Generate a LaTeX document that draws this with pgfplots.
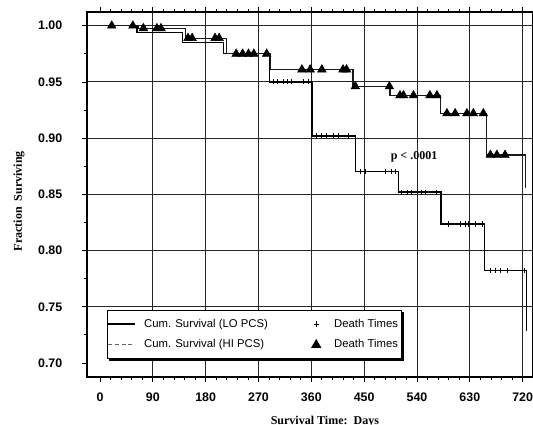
\documentclass[border=0pt]{standalone}
\usepackage{fontspec}
\setmainfont{Liberation Sans}
\newfontfamily\serifbf{Liberation Serif}
\usepackage{pgfplots}
\pgfplotsset{compat=1.18}
\pgfplotsset{
  lineleg/.style={legend image code/.code={\draw[##1] (0pt,0pt) -- (20pt,0pt);}},
  dashleg/.style={legend image code/.code={\draw[##1, densely dashed, black!60, line width=0.6pt] (0pt,0pt) -- (20pt,0pt);}},
  markleg/.style={legend image code/.code={\draw[##1] plot coordinates {(0pt,0pt)};}},
}

\begin{document}
\begin{tikzpicture}
\begin{axis}[
  name=ax,
  scale only axis,
  width=334.1pt, height=273.75pt,
  xmin=-22.1, xmax=736.7,
  ymin=0.6875, ymax=1.0122,
  xtick={0,90,180,270,360,450,540,630,720},
  ytick={0.70,0.75,0.80,0.85,0.90,0.95,1.00},
  minor x tick num=4, minor y tick num=1,
  tick align=outside,
  major tick length=4pt, minor tick length=2.5pt,
  tick style={black, line width=0.6pt},
  axis line style={line width=0.9pt},
  /pgf/number format/assume math mode=true,
  ticklabel style={font=\fontsize{9.3}{11}\selectfont\bfseries},
  yticklabel style={/pgf/number format/.cd, fixed, fixed zerofill, precision=2},
  xticklabel shift=4pt, yticklabel shift=11pt,
  xlabel={Survival Time:\ \ Days},
  xlabel style={at={(axis description cs:0.534,-0.129)}, anchor=base,
    font=\serifbf\bfseries\fontsize{9}{11}\selectfont},
  ylabel={Fraction\ \ Surviving},
  ylabel style={at={(axis description cs:-0.1526,0.482)}, anchor=center,
    font=\serifbf\bfseries\fontsize{9}{11}\selectfont},
  legend columns=2, legend cell align=left,
  legend style={name=leg, at={(axis description cs:0.0442,0.1836)}, anchor=north west,
    draw=black, line width=0.75pt, fill=white,
    font=\fontsize{8.5}{10}\selectfont,
    inner xsep=0.5pt, inner ysep=4.3pt, row sep=4pt,
    /tikz/every odd column/.append style={column sep=4.25pt},
    /tikz/every even column/.append style={column sep=31pt}},
]
% grid lines (none at 0 days or 0.70)
\pgfplotsinvokeforeach{90,180,270,360,450,540,630,720}{
  \draw[black!85, line width=0.7pt] (axis cs:#1,0.6875) -- (axis cs:#1,1.0122);}
\pgfplotsinvokeforeach{0.75,0.80,0.85,0.90,0.95,1.00}{
  \draw[black!85, line width=0.7pt] (axis cs:-22.1,#1) -- (axis cs:736.7,#1);}

% LO PCS
\addplot[const plot, black, line width=0.95pt, lineleg] coordinates {
(-3,1.000) (63,0.994) (140,0.985) (211,0.975) (289,0.950) (361,0.902)
(435,0.870) (509,0.852) (581,0.8236) (655,0.7825) (727,0.728)
};
\addlegendentry{Cum. Survival (LO PCS)}
\addplot[only marks, mark=+, mark size=1.9pt, black, line width=0.7pt, markleg] coordinates {
(295,0.950) (303,0.950) (312,0.950) (320,0.950) (327,0.950) (346,0.950) (355,0.950)
(369,0.902) (378,0.902) (386,0.902) (397,0.902) (406,0.902) (423,0.902)
(443,0.870) (452,0.870) (486,0.870) (497,0.870) (503,0.870)
(514,0.852) (523,0.852) (531,0.852) (548,0.852) (554,0.852) (574,0.852)
(593,0.8236) (614,0.8236) (622,0.8236) (627,0.8236) (639,0.8236) (651,0.8236)
(665,0.7825) (673,0.7825) (682,0.7825) (694,0.7825) (723,0.7825)
};
\addlegendentry{\hspace{4pt}Death Times\hspace{11pt}}

% HI PCS
\addplot[const plot, black!90, line width=0.85pt, dashleg] coordinates {
(-3,1.000) (65,0.9977) (145,0.989) (216,0.975) (290,0.961) (431,0.946)
(494,0.938) (580,0.922) (659,0.885) (725,0.856)
};
\addlegendentry{Cum. Survival (HI PCS)}
\addplot[only marks, mark=triangle*, mark size=3.7pt, black, markleg] coordinates {
(20,1.0) (56,1.0)
(74,0.9977) (97,0.9977) (104,0.9977)
(150,0.989) (157,0.989) (196,0.989) (203,0.989)
(232,0.975) (243,0.975) (253,0.975) (262,0.975) (284,0.975)
(344,0.961) (358,0.961) (378,0.961) (414,0.961) (420,0.961)
(435,0.946) (493,0.946)
(511,0.938) (517,0.938) (534,0.938) (562,0.938) (574,0.938)
(591,0.922) (605,0.922) (625,0.922) (636,0.922) (653,0.922)
(665,0.885) (676,0.885) (690,0.885)
};
\addlegendentry{\hspace{4pt}Death Times\hspace{11pt}}

\node[font=\serifbf\bfseries\fontsize{9}{11}\selectfont, anchor=base] at (axis cs:535,0.8814) {p < .0001};
\end{axis}
% legend shadow on the right and bottom edges
\draw[black, line width=1.6pt] ([shift={(1.1pt,-1.8pt)}]leg.north east) -- ([shift={(1.1pt,-1.1pt)}]leg.south east) -- ([shift={(1.8pt,-1.1pt)}]leg.south west);
\pgfresetboundingbox
\useasboundingbox ([shift={(-65.25pt,-36pt)}]ax.south west) rectangle ([shift={(0.4pt,9pt)}]ax.north east);
\end{tikzpicture}
\end{document}
